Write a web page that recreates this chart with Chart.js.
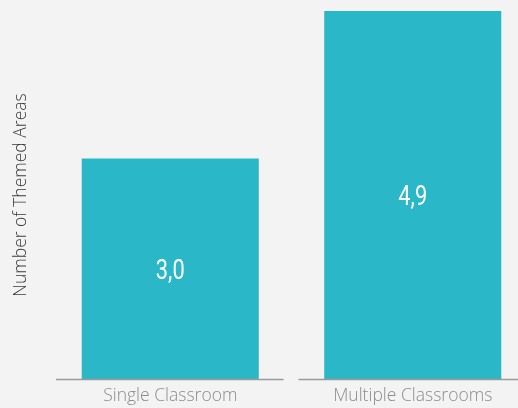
<!DOCTYPE html>
<html>
<head>
<meta charset="utf-8">
<script src="https://cdn.jsdelivr.net/npm/chart.js@4"></script>
<style>
  html, body { margin: 0; padding: 0; background: #f3f3f3; overflow: hidden; width: 518px; height: 408px; }
  #caja { width: 540px; height: 417px; }
</style>
</head>
<body>
<div id="caja"><canvas id="grafico"></canvas></div>
<script>
const categorias = ['Single Classroom', 'Multiple Classrooms'];
const valores = [2.96, 4.94];
const tituloEje = 'Number of Themed Areas';

// linea del eje cortada por categoria
const lineaEje = {
  id: 'lineaEje',
  afterDraw(chart) {
    const { ctx, chartArea, scales } = chart;
    const ancho = (chartArea.right - chartArea.left) / categorias.length;
    ctx.save();
    ctx.strokeStyle = '#9a9a9a';
    ctx.lineWidth = 1.5;
    categorias.forEach((c, i) => {
      const centro = scales.x.getPixelForValue(i);
      ctx.beginPath();
      ctx.moveTo(centro - ancho / 2 + 7, chartArea.bottom + 0.5);
      ctx.lineTo(centro + ancho / 2 - 8, chartArea.bottom + 0.5);
      ctx.stroke();
    });
    ctx.restore();
  }
};

// valores dentro de las barras
const etiquetas = {
  id: 'etiquetas',
  afterDatasetsDraw(chart) {
    const { ctx } = chart;
    const meta = chart.getDatasetMeta(0);
    ctx.save();
    ctx.fillStyle = '#ffffff';
    ctx.font = "28px 'Roboto', sans-serif";
    ctx.textAlign = 'center';
    ctx.textBaseline = 'middle';
    meta.data.forEach((barra, i) => {
      const texto = valores[i].toFixed(1).replace('.', ',');
      const y = (barra.y + barra.base) / 2 + 3;
      ctx.save();
      ctx.translate(barra.x, y);
      ctx.scale(0.78, 1);
      ctx.fillText(texto, 0, 0);
      ctx.restore();
    });
    ctx.restore();
  }
};

const ctx = document.getElementById('grafico');
new Chart(ctx, {
  type: 'bar',
  data: {
    labels: categorias,
    datasets: [{
      data: valores,
      backgroundColor: '#2ab7c8',
      borderWidth: 0,
      categoryPercentage: 1,
      barPercentage: 0.73
    }]
  },
  options: {
    responsive: true,
    maintainAspectRatio: false,
    animation: false,
    layout: {
      padding: { left: 11, top: 11, right: 6, bottom: 3 }
    },
    plugins: {
      legend: { display: false },
      tooltip: { enabled: false }
    },
    scales: {
      x: {
        grid: { display: false, drawTicks: false },
        border: { display: false },
        ticks: {
          color: '#8c8c8c',
          padding: 7,
          font: { size: 17.5, family: "'Open Sans', sans-serif", weight: 300 }
        }
      },
      y: {
        min: 0,
        max: Math.max(...valores),
        grid: { display: false, drawTicks: false },
        border: { display: false },
        ticks: { display: false },
        title: {
          display: true,
          text: tituloEje,
          color: '#3a3a3a',
          padding: { top: 0, bottom: 17 },
          font: { size: 17.5, family: "'Open Sans', sans-serif", weight: 300 }
        }
      }
    }
  },
  plugins: [lineaEje, etiquetas]
});
</script>
</body>
</html>
